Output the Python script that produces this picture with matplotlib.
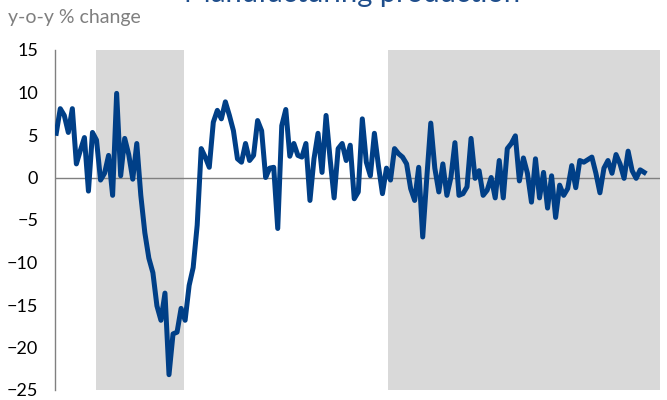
import matplotlib
matplotlib.use('Agg')
import matplotlib.pyplot as plt
import numpy as np

plt.rcParams['font.family'] = ['Lato', 'DejaVu Sans']

# y-o-y % change, monthly
values = [
    5.2, 8.1, 7.3, 5.3, 8.1, 1.6, 3.2, 4.7, -1.6, 5.3,
    4.4, -0.3, 0.5, 2.6, -2.1, 9.9, 0.2, 4.6, 2.7, -0.2,
    4.0, -2.1, -6.5, -9.5, -11.2, -15.1, -16.8, -13.6, -23.2, -18.4,
    -18.2, -15.4, -16.8, -12.7, -10.6, -5.6, 3.4, 2.4, 1.2, 6.5,
    7.9, 6.9, 8.9, 7.3, 5.5, 2.2, 1.8, 4.0, 2.0, 2.6,
    6.7, 5.5, 0.0, 1.1, 1.2, -6.0, 6.1, 8.0, 2.5, 4.0,
    2.6, 2.4, 4.0, -2.7, 2.2, 5.2, 0.6, 7.3, 2.2, -2.4,
    3.4, 4.0, 2.0, 3.8, -2.5, -1.7, 6.9, 1.8, 0.2, 5.2,
    1.4, -1.9, 1.1, -0.3, 3.4, 2.8, 2.4, 1.6, -1.3, -2.7,
    1.2, -7.0, -0.1, 6.4, 1.1, -1.7, 1.6, -2.1, 0.0, 4.1,
    -2.1, -1.9, -1.1, 4.6, -0.1, 0.8, -2.1, -1.5, 0.0, -2.4,
    2.0, -2.4, 3.4, 4.0, 4.9, -0.4, 2.3, 0.5, -2.9, 2.2,
    -2.4, 0.6, -3.6, 0.2, -4.7, -0.9, -2.1, -1.3, 1.4, -1.2,
    2.0, 1.8, 2.1, 2.4, 0.5, -1.8, 1.1, 2.0, 0.5, 2.7,
    1.6, -0.1, 3.1, 0.8, -0.1, 0.9, 0.6,
]
# shaded periods, in month index
shaded = [(9.9, 31.8), (82.4, 160)]
yticks = [15, 10, 5, 0, -5, -10, -15, -20, -25]

x = np.arange(len(values))

fig = plt.figure(figsize=(6.67, 4), dpi=100)
ax = fig.add_axes([0.0825, 0.025, 0.9075, 0.85])

for start, end in shaded:
    ax.axvspan(start, end, color='#d9d9d9', lw=0, zorder=0)

ax.axhline(0, color='#808080', lw=1, zorder=1)
ax.plot(x, values, color='#003f87', lw=3.6, solid_joinstyle='round', zorder=3)

ax.set_xlim(-0.3, len(values) - 1 + 4)
ax.set_ylim(-25, 15)
ax.set_yticks(yticks)
ax.set_xticks([])
ax.tick_params(axis='y', length=0, labelsize=13, pad=12, colors='black')

for side in ['top', 'right', 'bottom']:
    ax.spines[side].set_visible(False)
ax.spines['left'].set_color('#808080')
ax.spines['left'].set_linewidth(1)

fig.text(0.012, 0.955, 'y-o-y % change', color='#7f7f7f', fontsize=14,
         va='center', ha='left')
fig.text(0.528, 0.995, 'Manufacturing production', color='#1f4e8c', fontsize=21,
         va='baseline', ha='center')

fig.savefig('out.png', dpi=100)
